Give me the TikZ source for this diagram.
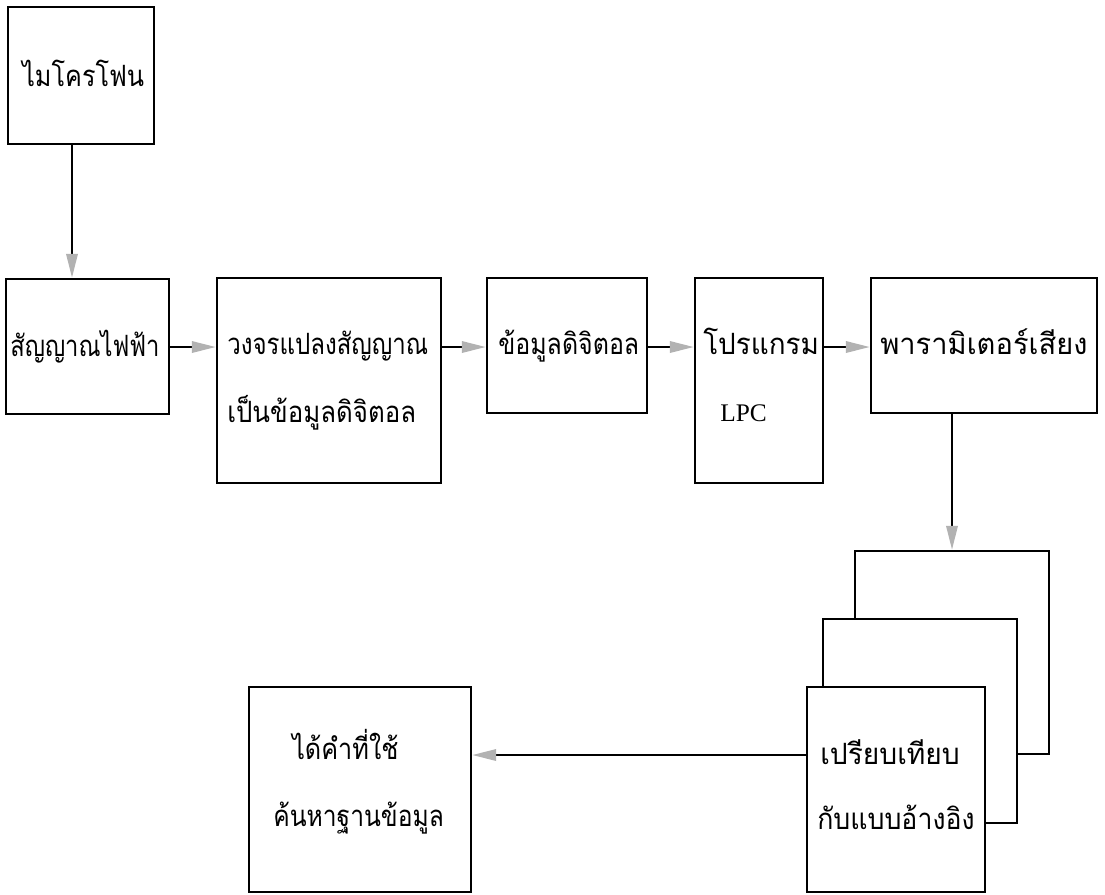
\documentclass[tikz,border=0pt]{standalone}
\usepackage{fontspec}
\newfontfamily\thai[Script=Thai]{Loma}
\newfontfamily\latinserif{Liberation Serif}
\usetikzlibrary{arrows.meta,fit}
% horizontal squeeze or stretch of a label
\newcommand\hsq[2]{\scalebox{#1}[1]{#2}}

\begin{document}
\begin{tikzpicture}[x=0.75pt,y=-0.75pt,
  box/.style={draw, line width=1.8pt, inner sep=0pt, fill=white},
  txt/.style={anchor=base west, inner sep=0pt, font=\thai\fontsize{22}{22}\selectfont},
  lat/.style={anchor=base west, inner sep=0pt, font=\latinserif\fontsize{19}{19}\selectfont},
  arr/.style={line width=1.8pt, -{Triangle[length=18pt,width=8.5pt,color=gray!60]}}]
\useasboundingbox (0,0) rectangle (1105,894);

% processing chain, top row
\node[box, fit={(8,7) (154,144)}] (b1) {};
\node[box, fit={(6,279) (169,414)}] (b2) {};
\node[box, fit={(217,278) (441,483)}] (b3) {};
\node[box, fit={(487,278) (647,413)}] (b4) {};
\node[box, fit={(695,278) (823,483)}] (b5) {};
\node[box, fit={(871,278) (1097,413)}] (b6) {};

% stack of reference templates
\node[box, fit={(855,551) (1049,754)}] (back) {};
\node[box, fit={(823,619) (1017,823)}] (mid) {};
\node[box, fit={(807,687) (985,892)}] (front) {};

% result
\node[box, fit={(249,687) (471,892)}] (res) {};

% labels
\node[txt] (t1) at (22,86) {\hsq{0.86}{ไมโครโฟน}};
\node[txt] (t2) at (10,356) {\hsq{0.81}{สัญญาณไฟฟ้า}};
\node[txt] (t3a) at (227,354) {\hsq{0.82}{วงจรแปลงสัญญาณ}};
\node[txt] (t3b) at (227,422) {\hsq{0.88}{เป็นข้อมูลดิจิตอล}};
\node[txt] (t4) at (498,354) {\hsq{0.85}{ข้อมูลดิจิตอล}};
\node[txt] (t5a) at (703,354) {\hsq{0.95}{โปรแกรม}};
\node[lat] (t5b) at (720,421) {LPC};
\node[txt] (t6) at (880,354) {\hsq{0.99}{พารามิเตอร์เสียง}};
\node[txt] (t7a) at (820,764) {\hsq{0.96}{เปรียบเทียบ}};
\node[txt] (t7b) at (817,829) {\hsq{0.91}{กับแบบอ้างอิง}};
\node[txt] (t8a) at (292,759) {\hsq{0.86}{ได้คำที่ใช้}};
\node[txt] (t8b) at (273,826) {\hsq{0.84}{ค้นหาฐานข้อมูล}};

% connector tracks
\coordinate (m1) at (72,0);
\coordinate (r1) at (0,347);
\coordinate (r3) at (0,755);

% connectors
\draw[arr] (b1.south -| m1) -- (b2.north -| m1);
\draw[arr] (b2.east |- r1) -- (b3.west |- r1);
\draw[arr] (b3.east |- r1) -- (b4.west |- r1);
\draw[arr] (b4.east |- r1) -- (b5.west |- r1);
\draw[arr] (b5.east |- r1) -- (b6.west |- r1);
\draw[arr] (b6.south -| back.north) -- (back.north);
\draw[arr] (front.west |- r3) -- (res.east |- r3);
\end{tikzpicture}
\end{document}
